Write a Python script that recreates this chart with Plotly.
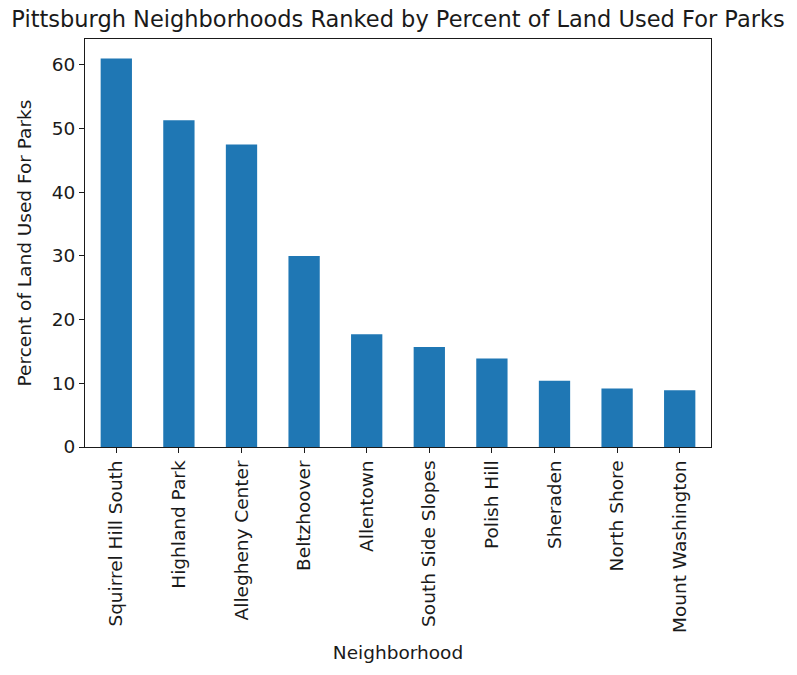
import plotly.graph_objects as go

neighborhoods = ["Squirrel Hill South", "Highland Park", "Allegheny Center", "Beltzhoover",
                 "Allentown", "South Side Slopes", "Polish Hill", "Sheraden",
                 "North Shore", "Mount Washington"]
percent_parks = [61.0, 51.3, 47.5, 30.0, 17.7, 15.7, 13.9, 10.4, 9.2, 8.9]
y_ticks = [0, 10, 20, 30, 40, 50, 60]

FONT = "DejaVu Sans"
TXT = "#1a1a1a"
LBL = 18.5

fig = go.Figure(go.Bar(
    x=list(range(len(neighborhoods))),
    y=percent_parks,
    width=0.5,
    marker=dict(color="#1f77b4", line=dict(width=0)),
))

fig.update_layout(
    width=797, height=675,
    margin=dict(l=85, r=86, t=39, b=228),
    paper_bgcolor="white", plot_bgcolor="white",
    font=dict(family=FONT, size=LBL, color=TXT),
    showlegend=False,
    title=dict(text="Pittsburgh Neighborhoods Ranked by Percent of Land Used For Parks",
               x=0.5, xref="paper", xanchor="center",
               y=1 - 19 / 675, yref="container", yanchor="middle",
               font=dict(family=FONT, size=22.5, color=TXT)),
)

fig.update_xaxes(
    range=[-0.5, len(neighborhoods) - 0.5],
    tickmode="array",
    tickvals=list(range(len(neighborhoods))),
    ticktext=neighborhoods,
    tickangle=-90,
    ticks="outside", ticklen=5, tickcolor=TXT, tickwidth=1,
    showline=True, linecolor=TXT, linewidth=1, mirror=True,
    showgrid=False, zeroline=False,
    tickfont=dict(family=FONT, size=LBL, color=TXT),
    title=dict(text="Neighborhood", standoff=14,
               font=dict(family=FONT, size=LBL, color=TXT)),
)

fig.update_yaxes(
    range=[0, 64.05],
    tickmode="array", tickvals=y_ticks,
    ticks="outside", ticklen=5, tickcolor=TXT, tickwidth=1,
    showline=True, linecolor=TXT, linewidth=1, mirror=True,
    showgrid=False, zeroline=False,
    tickfont=dict(family=FONT, size=LBL, color=TXT),
    title=dict(text="Percent of Land Used For Parks", standoff=15,
               font=dict(family=FONT, size=LBL, color=TXT)),
)

fig.write_html("out.html")
